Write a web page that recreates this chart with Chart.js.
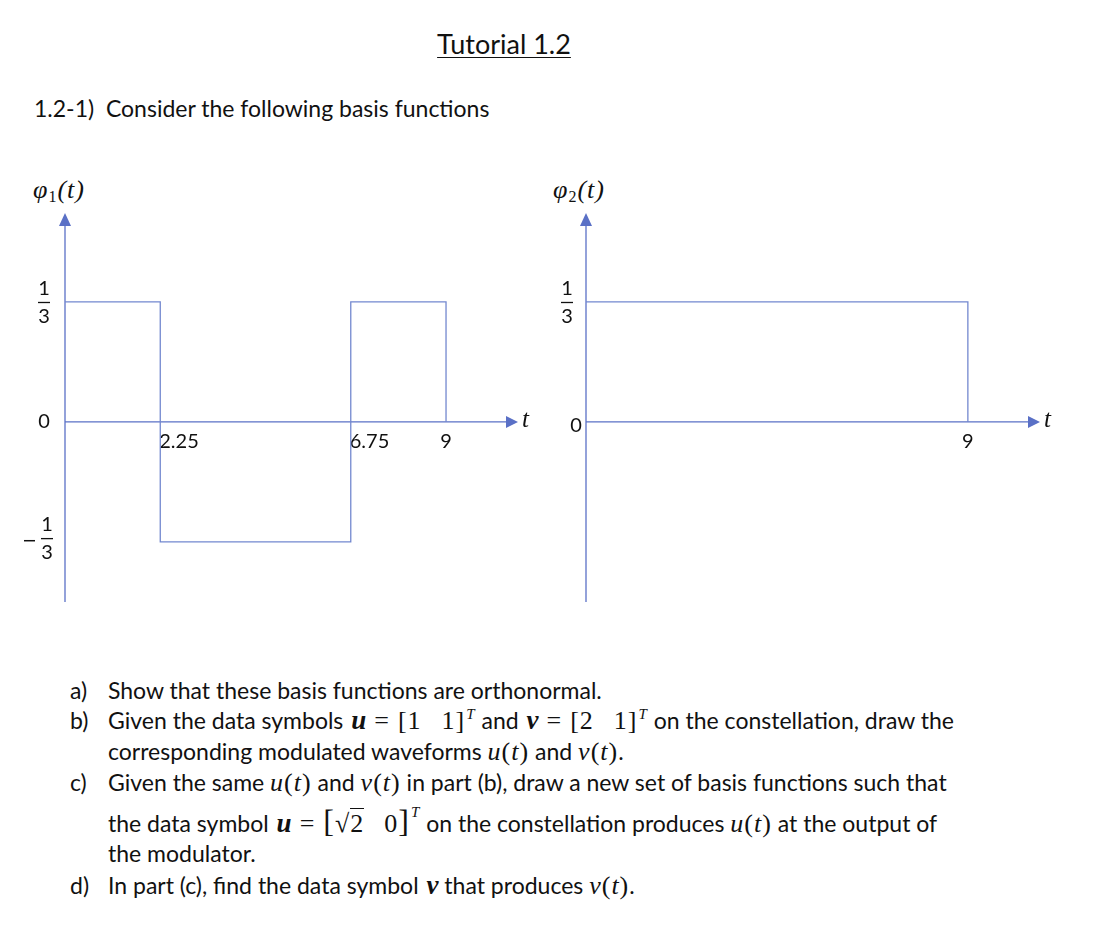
<!DOCTYPE html>
<html>
<head>
<meta charset="utf-8">
<script src="https://cdn.jsdelivr.net/npm/chart.js@4"></script>
<style>
  html, body { margin: 0; padding: 0; background: #fff; }
  #page { position: relative; width: 1101px; height: 938px; overflow: hidden; font-family: Lato, "Open Sans", sans-serif; color: #111; }
  .t { position: absolute; white-space: nowrap; font-size: 23px; line-height: 28px; }
  .m { font-family: "Liberation Serif", "DejaVu Serif", serif; font-style: italic; font-size: 26px; letter-spacing: 1px; }
  .mn { font-family: "Liberation Serif", "DejaVu Serif", serif; font-style: normal; font-size: 26px; letter-spacing: 1px; }
  .mb { font-family: "Liberation Serif", "DejaVu Serif", serif; font-style: italic; font-weight: bold; font-size: 27px; margin-left: 2px; }
  .eq { display: inline-block; margin: 0 8px; }
  .gap { display: inline-block; width: 20px; }
  sup { font-size: 15px; vertical-align: 10px; line-height: 0; margin-left: 1px; }
  sub { font-size: 16px; vertical-align: -4px; line-height: 0; font-style: normal; }
  canvas { position: absolute; }
</style>
</head>
<body>
<div id="page">
  <div class="t" style="left:0;width:1008px;text-align:center;top:27px;font-size:27px;line-height:34px;"><span style="text-decoration:underline;text-underline-offset:3px;text-decoration-thickness:1px;">Tutorial 1.2</span></div>
  <div class="t" style="left:34px;top:94px;">1.2-1)&nbsp; Consider the following basis functions</div>

  <div class="t m" style="left:33px;top:176px;font-size:26px;">φ<sub>1</sub>(<i>t</i>)</div>
  <div class="t m" style="left:553px;top:176px;font-size:26px;">φ<sub>2</sub>(<i>t</i>)</div>

  <div class="t" style="left:70px;top:676px;">a)</div>
  <div class="t" style="left:108px;top:676px;">Show that these basis functions are orthonormal.</div>
  <div class="t" style="left:70px;top:706px;">b)</div>
  <div class="t" style="left:108px;top:706px;">Given the data symbols <span class="mb">u</span><span class="mn"><span class="eq">=</span>[1<span class="gap"></span>1]</span><sup class="m" style="font-size:15px">T</sup> and <span class="mb">v</span><span class="mn"><span class="eq">=</span>[2<span class="gap"></span>1]</span><sup class="m" style="font-size:15px">T</sup> on the constellation, draw the</div>
  <div class="t" style="left:108px;top:737px;">corresponding modulated waveforms <span class="m">u</span><span class="mn">(</span><span class="m">t</span><span class="mn">)</span> and <span class="m">v</span><span class="mn">(</span><span class="m">t</span><span class="mn">)</span>.</div>
  <div class="t" style="left:70px;top:768px;">c)</div>
  <div class="t" style="left:108px;top:768px;">Given the same <span class="m">u</span><span class="mn">(</span><span class="m">t</span><span class="mn">)</span> and <span class="m">v</span><span class="mn">(</span><span class="m">t</span><span class="mn">)</span> in part (b), draw a new set of basis functions such that</div>
  <div class="t" style="left:108px;top:807px;">the data symbol <span class="mb">u</span><span class="mn"><span class="eq">=</span><span style="font-size:32px;">[</span>√<span style="border-top:1px solid #111;">2</span><span class="gap"></span>0<span style="font-size:32px;">]</span></span><sup class="m" style="font-size:15px;vertical-align:15px;">T</sup> on the constellation produces <span class="m">u</span><span class="mn">(</span><span class="m">t</span><span class="mn">)</span> at the output of</div>
  <div class="t" style="left:108px;top:839px;">the modulator.</div>
  <div class="t" style="left:70px;top:871px;">d)</div>
  <div class="t" style="left:108px;top:871px;">In part (c), find the data symbol <span class="mb">v</span> that produces <span class="m">v</span><span class="mn">(</span><span class="m">t</span><span class="mn">)</span>.</div>

  <canvas id="c1" width="540" height="460" style="left:0px;top:160px;width:540px;height:460px;"></canvas>
  <canvas id="c2" width="540" height="460" style="left:540px;top:160px;width:540px;height:460px;"></canvas>
</div>
<script>
// ---- data ----
const phi1T = [0, 2.25, 2.25, 6.75, 6.75, 9, 9];
const phi1V = [1/3, 1/3, -1/3, -1/3, 1/3, 1/3, 0];
const phi2T = [0, 9, 9];
const phi2V = [1/3, 1/3, 0];
const xTicks1 = [2.25, 6.75, 9];
const xTickLabels1 = ['2.25', '6.75', '9'];
const xTicks2 = [9];
const xTickLabels2 = ['9'];
const yTicks1 = [1/3, 0, -1/3];
const yTickLabels1 = ['1/3', '0', '-1/3'];
const yTicks2 = [1/3, 0];
const yTickLabels2 = ['1/3', '0'];
const tMin = 0, tMax = 10.7;
const vMin = -0.5, vMax = 0.58;

const AXIS = '#5a70c6';
const LINE = '#7388cf';

function drawFrac(ctx, x, y, num, den, neg) {
  ctx.save();
  ctx.fillStyle = '#111';
  ctx.font = '20px Lato, sans-serif';
  ctx.textAlign = 'center';
  ctx.textBaseline = 'middle';
  ctx.fillText(num, x, y - 13);
  ctx.fillText(den, x, y + 15);
  ctx.fillRect(x - 6, y, 12, 1.3);
  if (neg) {
    ctx.fillRect(x - 23, y + 2, 11, 1.5);
  }
  ctx.restore();
}

const axesPlugin = {
  id: 'axesPlugin',
  beforeDatasetsDraw(chart, args, opts) {
    const ctx = chart.ctx;
    const xs = chart.scales.x, ys = chart.scales.y;
    const x0 = xs.getPixelForValue(0);
    const y0 = ys.getPixelForValue(0);
    const top = chart.chartArea.top, bottom = chart.chartArea.bottom, right = chart.chartArea.right;
    ctx.save();
    ctx.strokeStyle = AXIS;
    ctx.fillStyle = AXIS;
    ctx.lineWidth = 1.3;
    ctx.beginPath();
    ctx.moveTo(x0, bottom);
    ctx.lineTo(x0, top + 12);
    ctx.stroke();
    ctx.beginPath();
    ctx.moveTo(x0, top);
    ctx.lineTo(x0 - 6, top + 13);
    ctx.lineTo(x0 + 6, top + 13);
    ctx.closePath();
    ctx.fill();
    ctx.beginPath();
    ctx.moveTo(x0, y0);
    ctx.lineTo(right - 11, y0);
    ctx.stroke();
    ctx.beginPath();
    ctx.moveTo(right, y0);
    ctx.lineTo(right - 12, y0 - 6);
    ctx.lineTo(right - 12, y0 + 6);
    ctx.closePath();
    ctx.fill();
    ctx.restore();

    ctx.save();
    ctx.fillStyle = '#111';
    ctx.font = 'italic 25px "Liberation Serif", serif';
    ctx.textAlign = 'left';
    ctx.textBaseline = 'middle';
    ctx.fillText('t', right + 4, y0 - 1);
    ctx.restore();

    ctx.save();
    ctx.fillStyle = '#111';
    ctx.font = '20px Lato, sans-serif';
    ctx.textBaseline = 'middle';
    opts.xTicks.forEach((v, i) => {
      const px = xs.getPixelForValue(v);
      ctx.textAlign = opts.xAlign[i];
      ctx.fillText(opts.xLabels[i], px + (opts.xAlign[i] === 'left' ? -1 : 0), y0 + 20);
    });
    ctx.restore();

    opts.yTicks.forEach((v, i) => {
      const py = ys.getPixelForValue(v);
      const lab = opts.yLabels[i];
      const off = opts.yOffsets[i];
      if (lab === '0') {
        ctx.save();
        ctx.fillStyle = '#111';
        ctx.font = '20px Lato, sans-serif';
        ctx.textAlign = 'center';
        ctx.textBaseline = 'middle';
        ctx.fillText('0', x0 - off, py + opts.zeroDy);
        ctx.restore();
      } else {
        const neg = lab.charAt(0) === '-';
        const parts = lab.replace('-', '').split('/');
        drawFrac(ctx, x0 - off, py + (neg ? -4 : 0), parts[0], parts[1], neg);
      }
    });
  }
};

function makeChart(id, T, V, pad, pluginOpts) {
  return new Chart(document.getElementById(id), {
    type: 'scatter',
    data: {
      datasets: [{
        data: T.map((t, i) => ({ x: t, y: V[i] })),
        showLine: true,
        borderColor: LINE,
        borderWidth: 1.3,
        pointRadius: 0,
        fill: false,
        tension: 0
      }]
    },
    options: {
      responsive: false,
      animation: false,
      events: [],
      layout: { padding: pad },
      plugins: {
        legend: { display: false },
        tooltip: { enabled: false },
        axesPlugin: pluginOpts
      },
      scales: {
        x: { type: 'linear', min: tMin, max: tMax, display: false },
        y: { type: 'linear', min: vMin, max: vMax, display: false }
      }
    },
    plugins: [axesPlugin]
  });
}

makeChart('c1', phi1T, phi1V, { left: 65, right: 22, top: 53, bottom: 18 }, {
  xTicks: xTicks1, xLabels: xTickLabels1, xAlign: ['left', 'left', 'center'],
  yTicks: yTicks1, yLabels: yTickLabels1, yOffsets: [21, 21, 18], zeroDy: 0
});
makeChart('c2', phi2T, phi2V, { left: 46, right: 40, top: 53, bottom: 18 }, {
  xTicks: xTicks2, xLabels: xTickLabels2, xAlign: ['center'],
  yTicks: yTicks2, yLabels: yTickLabels2, yOffsets: [19, 10], zeroDy: 4
});
</script>
</body>
</html>
